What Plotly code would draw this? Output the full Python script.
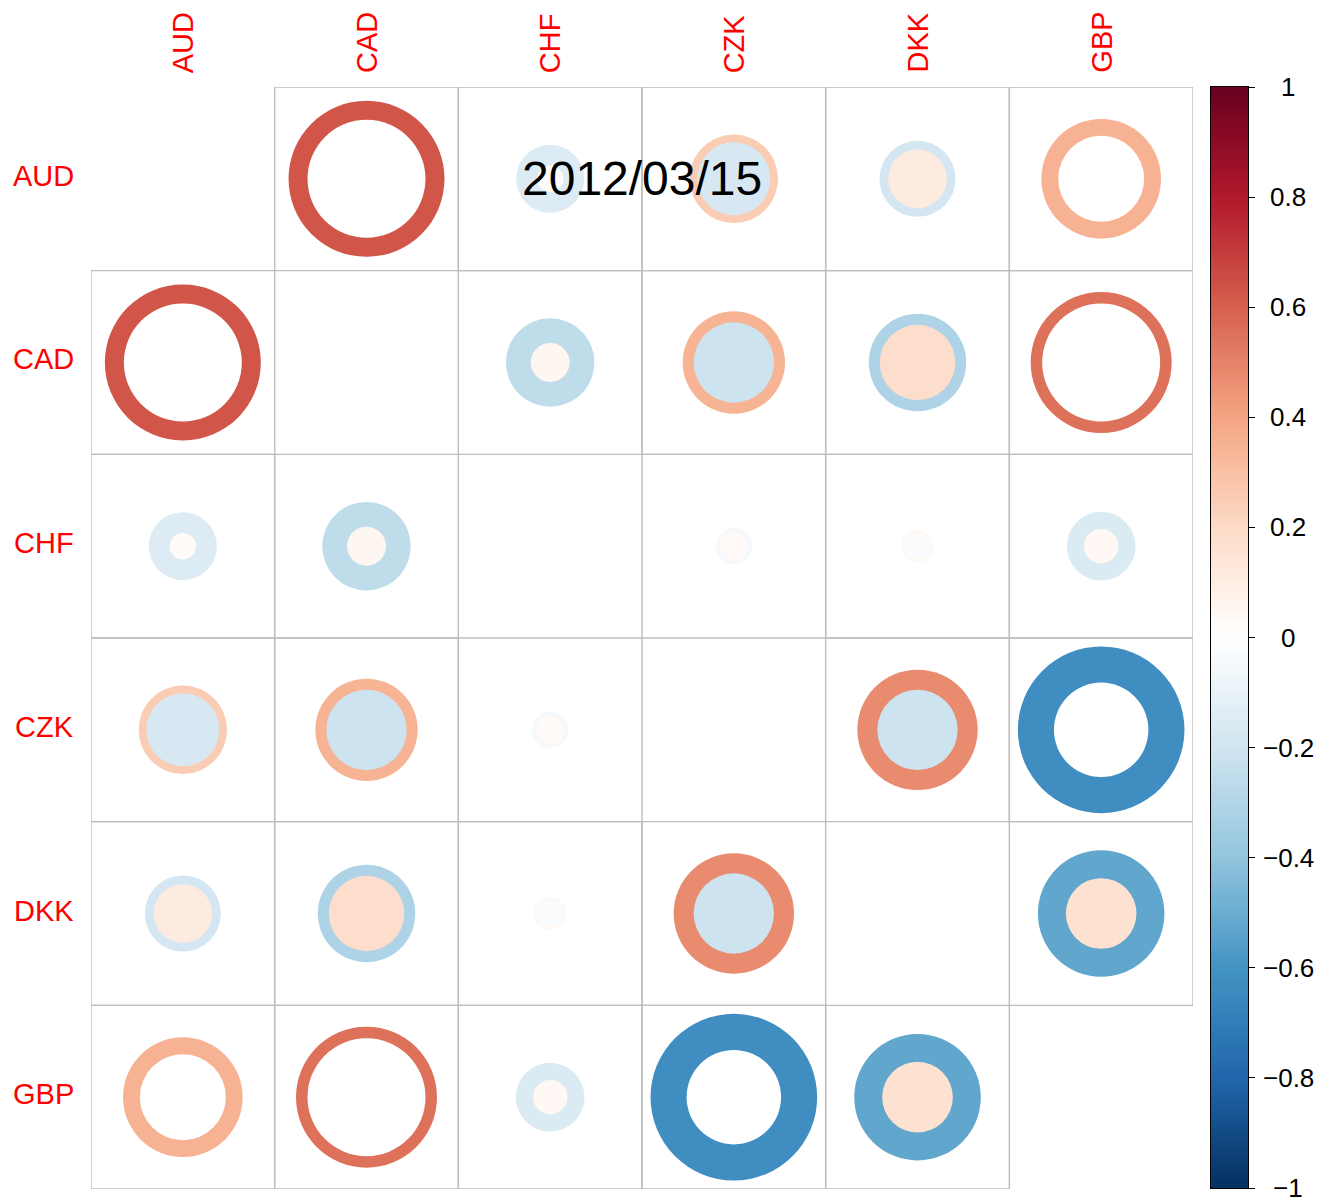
import plotly.graph_objects as go

# currencies and the date of this frame
labels = ["AUD", "CAD", "CHF", "CZK", "DKK", "GBP"]
date_text = "2012/03/15"

# upper-triangle pairs, in this order
pairs = [("AUD", "CAD"), ("AUD", "CHF"), ("AUD", "CZK"), ("AUD", "DKK"), ("AUD", "GBP"),
         ("CAD", "CHF"), ("CAD", "CZK"), ("CAD", "DKK"), ("CAD", "GBP"),
         ("CHF", "CZK"), ("CHF", "DKK"), ("CHF", "GBP"),
         ("CZK", "DKK"), ("CZK", "GBP"),
         ("DKK", "GBP")]
corr = [0.63, -0.07, 0.04, -0.04, 0.35,
        -0.11, 0.07, -0.07, 0.55,
        -0.01, 0.01, -0.06,
        0.15, -0.62,
        -0.20]
ci_lower = [0.457, -0.152, -0.175, -0.19, 0.243,
            -0.257, -0.212, -0.312, 0.457,
            -0.043, -0.022, -0.155,
            -0.212, -0.912,
            -0.526]
ci_upper = [0.799, 0.023, 0.257, 0.113, 0.47,
            0.05, 0.344, 0.187, 0.653,
            0.026, 0.035, 0.039,
            0.476, -0.293,
            0.164]

colorbar_ticks = [1, 0.8, 0.6, 0.4, 0.2, 0, -0.2, -0.4, -0.6, -0.8, -1]

# corrplot RdBu palette, from -1 to 1
palette = ["#053061", "#2166AC", "#4393C3", "#92C5DE", "#D1E5F0", "#FFFFFF",
           "#FDDBC7", "#F4A582", "#D6604D", "#B2182B", "#67001F"]

# the page body has an 8px margin, so the figure is drawn 8px smaller
PAD = 8
W, H = 1322 - PAD, 1197 - PAD
FONT = "Liberation Sans, Arial, Helvetica, sans-serif"


def px(x):
    return (x - PAD) / W


def py(y):
    return 1 - (y - PAD) / H


def hex_rgb(h):
    return tuple(int(h[i:i + 2], 16) for i in (1, 3, 5))


def value_color(v):
    # linear ramp like colorRampPalette
    t = (v + 1) / 2 * (len(palette) - 1)
    i = min(int(t), len(palette) - 2)
    f = t - i
    a, b = hex_rgb(palette[i]), hex_rgb(palette[i + 1])
    c = [round(a[k] + (b[k] - a[k]) * f) for k in range(3)]
    return "rgb(%d,%d,%d)" % tuple(c)


def radius(v):
    return 0.95 * abs(v) ** 0.5 / 2


n = len(labels)
pos = {lab: i + 1 for i, lab in enumerate(labels)}

fig = go.Figure()
shapes = []

# grid around every off-diagonal cell
for r in range(1, n + 1):
    for c in range(1, n + 1):
        if r == c:
            continue
        shapes.append(dict(type="rect", xref="x", yref="y",
                           x0=c - 0.5, x1=c + 0.5, y0=r - 0.5, y1=r + 0.5,
                           line=dict(color="#BEBEBE", width=1.4), layer="below"))

# confidence interval circles, mirrored in both triangles
for (a, b), cv, lo, up in zip(pairs, corr, ci_lower, ci_upper):
    big, small = (lo, up) if abs(lo) >= abs(up) else (up, lo)
    if lo * up > 0:
        outer_col, inner_col = value_color(cv), "white"
    else:
        outer_col, inner_col = value_color(big), value_color(small)
    for r, c in ((pos[a], pos[b]), (pos[b], pos[a])):
        for v, col in ((big, outer_col), (small, inner_col)):
            rr = radius(v)
            shapes.append(dict(type="circle", xref="x", yref="y",
                               x0=c - rr, x1=c + rr, y0=r - rr, y1=r + rr,
                               fillcolor=col, line=dict(width=0)))

# colour legend as a thin heatmap
steps = 200
bar_y = [-1 + (i + 0.5) * 2 / steps for i in range(steps)]
fig.add_trace(go.Heatmap(
    x=[0], y=bar_y, z=[[v] for v in bar_y],
    zmin=-1, zmax=1,
    colorscale=[[i / (len(palette) - 1), p] for i, p in enumerate(palette)],
    showscale=False, hoverinfo="skip",
    xaxis="x2", yaxis="y2"))

annotations = []
for lab in labels:
    annotations.append(dict(text=lab, xref="paper", yref="y", x=px(76), y=pos[lab],
                            xanchor="right", yanchor="middle", yshift=3,
                            showarrow=False,
                            font=dict(family=FONT, size=29, color="red")))
    annotations.append(dict(text=lab, xref="x", yref="paper", x=pos[lab], y=py(75),
                            xanchor="center", yanchor="bottom", textangle=-90,
                            showarrow=False,
                            font=dict(family=FONT, size=29, color="red")))

for t in colorbar_ticks:
    txt = ("%g" % t).replace("-", "\u2212")
    annotations.append(dict(text=txt, xref="paper", yref="y2", x=px(1288), y=t,
                            xanchor="center", yanchor="middle", showarrow=False,
                            font=dict(family=FONT, size=26, color="black")))

annotations.append(dict(text=date_text, xref="x", yref="y", x=(n + 1) / 2, y=1,
                        xanchor="center", yanchor="middle", showarrow=False,
                        font=dict(family=FONT, size=48, color="black")))

fig.update_layout(
    width=W, height=H,
    margin=dict(l=0, r=0, t=0, b=0),
    paper_bgcolor="white", plot_bgcolor="white",
    showlegend=False,
    shapes=shapes,
    annotations=annotations,
    xaxis=dict(domain=[px(91), px(1193)], range=[0.5, n + 0.5], visible=False,
               fixedrange=True),
    yaxis=dict(domain=[py(1189), py(87)], range=[n + 0.5, 0.5], visible=False,
               fixedrange=True),
    xaxis2=dict(domain=[px(1211), px(1248)], range=[-0.5, 0.5], anchor="y2",
                showticklabels=False, ticks="", showgrid=False, zeroline=False,
                showline=True, mirror=True, linecolor="black", linewidth=1.2),
    yaxis2=dict(domain=[py(1188), py(87)], range=[-1, 1], anchor="x2",
                side="right", tickvals=colorbar_ticks, ticks="outside", ticklen=6,
                tickcolor="black", tickwidth=1.2, showticklabels=False,
                showgrid=False, zeroline=False,
                showline=True, mirror=True, linecolor="black", linewidth=1.2),
)

fig.write_html("out.html")
